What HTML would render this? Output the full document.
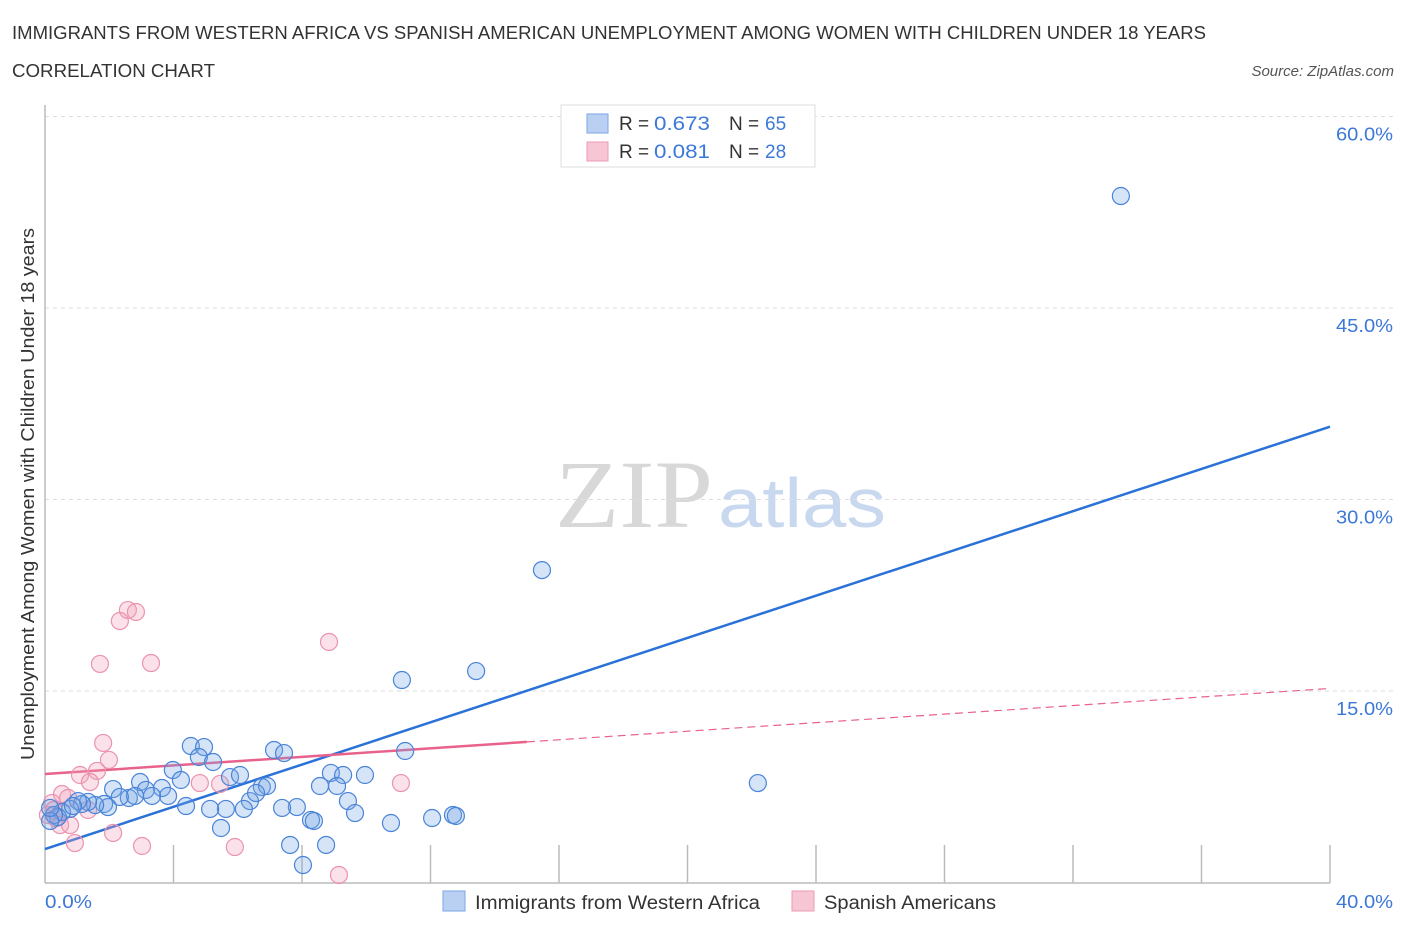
<!DOCTYPE html>
<html><head><meta charset="utf-8"><style>
body{margin:0;background:#fff;font-family:"Liberation Sans",sans-serif;}
</style></head><body>
<svg id="chart" width="1406" height="930" xmlns="http://www.w3.org/2000/svg" font-family="Liberation Sans, sans-serif">
<text x="12" y="39" font-size="18" fill="#333" textLength="1194" lengthAdjust="spacingAndGlyphs">IMMIGRANTS FROM WESTERN AFRICA VS SPANISH AMERICAN UNEMPLOYMENT AMONG WOMEN WITH CHILDREN UNDER 18 YEARS</text>
<text x="12" y="77" font-size="18" fill="#333" textLength="203" lengthAdjust="spacingAndGlyphs">CORRELATION CHART</text>
<text x="1394" y="76" font-size="15" fill="#555" text-anchor="end" font-style="italic">Source: ZipAtlas.com</text>
<text x="555" y="527" font-size="96" fill="#d8d8d8" font-family="Liberation Serif, serif" textLength="158" lengthAdjust="spacingAndGlyphs">ZIP</text>
<text x="718" y="527" font-size="70" fill="#c8d8ee" textLength="168" lengthAdjust="spacingAndGlyphs">atlas</text>
<g id="grid"></g>
<line x1="45" y1="105" x2="45" y2="883" stroke="#bbb" stroke-width="1.5"/>
<line x1="45" y1="883" x2="1330" y2="883" stroke="#bbb" stroke-width="1.5"/>
<text transform="translate(34,494) rotate(-90)" font-size="18" fill="#333" text-anchor="middle" textLength="532" lengthAdjust="spacingAndGlyphs">Unemployment Among Women with Children Under 18 years</text>
<text x="45" y="908" font-size="18" fill="#3b78d8" textLength="47" lengthAdjust="spacingAndGlyphs">0.0%</text>
<text x="1336" y="908" font-size="18" fill="#3b78d8" textLength="57" lengthAdjust="spacingAndGlyphs">40.0%</text>
<g id="trend"></g>
<g id="points"></g>
<g>
<rect x="561" y="105" width="254" height="62" fill="#fff" stroke="#ddd"/>
<rect x="587" y="114" width="21" height="19" fill="#b9d0f3" stroke="#7aa6e6"/>
<rect x="587" y="142" width="21" height="19" fill="#f7c6d4" stroke="#eb9ab2"/>
<text x="619" y="130" font-size="19" fill="#333">R =</text>
<text x="654" y="130" font-size="19" fill="#3b78d8" textLength="56" lengthAdjust="spacingAndGlyphs">0.673</text>
<text x="729" y="130" font-size="19" fill="#333">N =</text>
<text x="765" y="130" font-size="19" fill="#3b78d8">65</text>
<text x="619" y="158" font-size="19" fill="#333">R =</text>
<text x="654" y="158" font-size="19" fill="#3b78d8" textLength="56" lengthAdjust="spacingAndGlyphs">0.081</text>
<text x="729" y="158" font-size="19" fill="#333">N =</text>
<text x="765" y="158" font-size="19" fill="#3b78d8">28</text>
</g>
<g>
<rect x="443" y="891" width="22" height="20" fill="#b9d0f3" stroke="#7aa6e6"/>
<text x="475" y="909" font-size="19" fill="#333" textLength="285" lengthAdjust="spacingAndGlyphs">Immigrants from Western Africa</text>
<rect x="792" y="891" width="22" height="20" fill="#f7c6d4" stroke="#eb9ab2"/>
<text x="824" y="909" font-size="19" fill="#333" textLength="172" lengthAdjust="spacingAndGlyphs">Spanish Americans</text>
</g>
</svg>
<script>
const yTicks=[15,30,45,60];
const xTickVals=[4,8,12,16,20,24,28,32,36,40];
const blueX=[33.49,15.47,13.42,11.11,11.21,22.19,4.54,4.95,4.79,5.23,7.13,7.44,3.98,4.23,5.76,6.07,6.75,6.91,8.90,9.28,9.96,8.56,9.09,9.43,9.65,7.84,8.28,8.37,7.38,6.38,6.57,6.19,5.63,5.14,4.39,5.48,7.63,8.03,8.75,10.77,12.05,12.70,12.79,2.96,3.14,3.64,3.83,3.33,2.61,2.80,2.12,2.33,1.84,1.96,1.56,1.34,1.15,1.03,0.78,0.53,0.40,0.28,0.16,0.16,0.87];
const blueY=[53.77,24.47,16.56,15.86,10.30,7.79,10.69,10.61,9.83,9.44,10.38,10.14,8.81,8.03,8.26,8.42,7.48,7.56,8.58,8.42,8.42,7.56,7.56,6.38,5.44,5.91,4.90,4.82,5.84,6.38,7.01,5.76,5.76,5.76,5.99,4.27,2.94,1.37,2.94,4.66,5.05,5.29,5.21,7.87,7.25,7.40,6.78,6.78,6.62,6.78,7.32,6.70,6.15,5.91,6.07,6.31,6.15,6.38,5.76,5.52,5.13,5.29,4.82,5.84,5.99];
const pinkX=[2.58,2.83,2.33,1.71,3.30,8.84,1.81,1.99,1.62,1.09,11.08,5.45,4.82,1.40,0.53,0.72,0.22,0.28,1.34,0.47,0.78,2.12,0.93,3.02,5.91,9.15,0.09,0.34];
const pinkY=[21.34,21.19,20.48,17.12,17.19,18.84,10.93,9.60,8.74,8.42,7.79,7.72,7.79,7.87,6.93,6.62,6.23,5.68,5.68,4.50,4.50,3.88,3.09,2.86,2.78,0.59,5.29,5.05];
const blueTrend=[2.62,35.7];
const pinkTrend=[8.5,15.2];
const pinkSolidEnd=15;
const NS="http://www.w3.org/2000/svg";
const X=v=>45+v*32.125, Y=v=>882.5-v*12.767;
function mk(tag,attrs,parent){const e=document.createElementNS(NS,tag);for(const k in attrs)e.setAttribute(k,attrs[k]);parent.appendChild(e);return e;}
const grid=document.getElementById('grid');
yTicks.forEach(t=>{
  const l=mk('line',{x1:45,x2:1395,y1:Y(t),y2:Y(t),stroke:'#ddd','stroke-dasharray':'4,4'},grid);
  
  
  const tx=mk('text',{x:1336,y:Y(t)+24,'font-size':18,fill:'#3b78d8',textLength:57,lengthAdjust:'spacingAndGlyphs'},grid);
  tx.textContent=t.toFixed(1)+'%';
  
  
});
xTickVals.forEach(t=>{
  const l=mk('line',{x1:X(t),x2:X(t),y1:845,y2:883,stroke:'#bbb','stroke-width':1.5},grid);
  
  
});
const pts=document.getElementById('points');
pinkX.forEach((v,i)=>{
  const c=mk('circle',{cx:X(v),cy:Y(pinkY[i]),r:8.5,fill:'rgba(242,160,185,0.3)',stroke:'#eb93ad','stroke-width':1.2},pts);
  
  
});
blueX.forEach((v,i)=>{
  const c=mk('circle',{cx:X(v),cy:Y(blueY[i]),r:8.5,fill:'rgba(120,165,230,0.3)',stroke:'#4a84d8','stroke-width':1.2},pts);
  
  
});
const tr=document.getElementById('trend');
const pAt=x=>pinkTrend[0]+(pinkTrend[1]-pinkTrend[0])*x/40;
const b=mk('line',{x1:X(0),y1:Y(blueTrend[0]),x2:X(40),y2:Y(blueTrend[1]),stroke:'#2a72d8','stroke-width':2.5},tr);


const p1=mk('line',{x1:X(0),y1:Y(pinkTrend[0]),x2:X(pinkSolidEnd),y2:Y(pAt(pinkSolidEnd)),stroke:'#e8628c','stroke-width':2.5},tr);


const p2=mk('line',{x1:X(pinkSolidEnd),y1:Y(pAt(pinkSolidEnd)),x2:X(40),y2:Y(pinkTrend[1]),stroke:'#e8628c','stroke-width':1.2,'stroke-dasharray':'8,5'},tr);


</script>
</body></html>
